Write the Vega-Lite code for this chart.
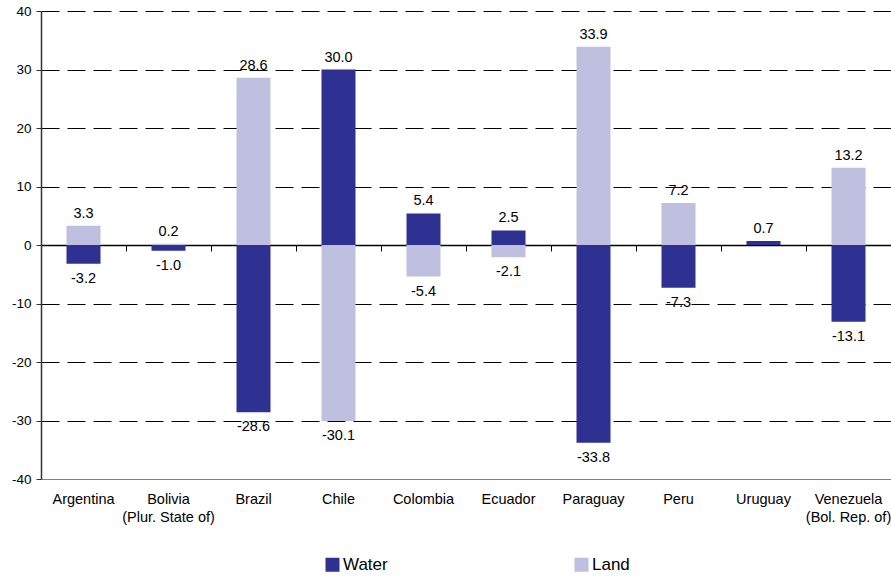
{
  "$schema": "https://vega.github.io/schema/vega-lite/v6.json",
  "width": 850,
  "height": 468,
  "autosize": {"type": "none"},
  "padding": {"left": 41, "top": 11, "right": 0, "bottom": 97},
  "config": {
    "view": {"stroke": null},
    "font": "Liberation Sans",
    "locale": {"number": {"decimal": ".", "thousands": ",", "grouping": [3], "currency": ["$", ""], "minus": "-"}}
  },
  "data": {
    "values": [
      {"country": "Argentina", "type": "Water", "value": -3.2},
      {"country": "Argentina", "type": "Land", "value": 3.3},
      {"country": "Bolivia (Plur. State of)", "type": "Water", "value": -1.0},
      {"country": "Bolivia (Plur. State of)", "type": "Land", "value": 0.2},
      {"country": "Brazil", "type": "Water", "value": -28.6},
      {"country": "Brazil", "type": "Land", "value": 28.6},
      {"country": "Chile", "type": "Water", "value": 30.0},
      {"country": "Chile", "type": "Land", "value": -30.1},
      {"country": "Colombia", "type": "Water", "value": 5.4},
      {"country": "Colombia", "type": "Land", "value": -5.4},
      {"country": "Ecuador", "type": "Water", "value": 2.5},
      {"country": "Ecuador", "type": "Land", "value": -2.1},
      {"country": "Paraguay", "type": "Water", "value": -33.8},
      {"country": "Paraguay", "type": "Land", "value": 33.9},
      {"country": "Peru", "type": "Water", "value": -7.3},
      {"country": "Peru", "type": "Land", "value": 7.2},
      {"country": "Uruguay", "type": "Water", "value": 0.7},
      {"country": "Venezuela (Bol. Rep. of)", "type": "Water", "value": -13.1},
      {"country": "Venezuela (Bol. Rep. of)", "type": "Land", "value": 13.2}
    ]
  },
  "encoding": {
    "y": {
      "field": "value",
      "type": "quantitative",
      "stack": "zero",
      "scale": {"domain": [-40, 40], "nice": false},
      "axis": {
        "title": null,
        "values": [-40, -30, -20, -10, 0, 10, 20, 30, 40],
        "format": "d",
        "labelFontSize": 13.5,
        "labelColor": "#000000",
        "labelPadding": 5,
        "domain": true,
        "domainColor": "#333333",
        "domainWidth": 1.5,
        "tickColor": "#333333",
        "tickSize": 5,
        "grid": true,
        "gridColor": "#000000",
        "gridDash": [18, 8],
        "gridWidth": 1,
        "gridOpacity": {"condition": {"test": "datum.value === -40 || datum.value === 0", "value": 0}, "value": 1}
      }
    }
  },
  "layer": [
    {
      "mark": {"type": "bar"},
      "encoding": {
        "x": {
          "field": "country",
          "type": "nominal",
          "sort": null,
          "scale": {"paddingInner": 0.6, "paddingOuter": 0.3},
          "axis": {
            "title": null,
            "orient": "bottom",
            "labelAngle": 0,
            "labelFontSize": 14.5,
            "labelColor": "#000000",
            "labelPadding": 13,
            "labelLineHeight": 18,
            "labelExpr": "indexof(datum.label, ' (') > 0 ? [substring(datum.label, 0, indexof(datum.label, ' (')), substring(datum.label, indexof(datum.label, ' (') + 1)] : datum.label",
            "ticks": false,
            "domain": true,
            "domainColor": "#808080",
            "grid": false
          }
        },
        "color": {
          "field": "type",
          "type": "nominal",
          "scale": {"domain": ["Water", "Land"], "range": ["#2e3192", "#bfbfdf"]},
          "legend": {
            "title": null,
            "orient": "none",
            "legendX": 283,
            "legendY": 545,
            "direction": "horizontal",
            "columns": 2,
            "columnPadding": 185,
            "symbolType": "square",
            "symbolSize": 196,
            "symbolStrokeWidth": 0,
            "labelFontSize": 17,
            "labelColor": "#000000",
            "labelOffset": 2,
            "padding": 0
          }
        }
      }
    },
    {
      "transform": [{"filter": "datum.value > 0"}],
      "mark": {"type": "text", "baseline": "bottom", "dy": -5, "fontSize": 14.5, "color": "#000000"},
      "encoding": {
        "x": {
          "field": "country",
          "type": "nominal",
          "sort": null,
          "axis": {
            "title": null,
            "orient": "bottom",
            "offset": -234,
            "labels": false,
            "ticks": true,
            "tickSize": 6,
            "tickColor": "#000000",
            "bandPosition": -0.75,
            "domain": true,
            "domainColor": "#000000",
            "domainWidth": 1.5,
            "grid": false
          }
        },
        "text": {"field": "value", "type": "quantitative", "format": ".1f"}
      }
    },
    {
      "transform": [{"filter": "datum.value < 0"}],
      "mark": {"type": "text", "baseline": "top", "dy": 8, "fontSize": 14.5, "color": "#000000"},
      "encoding": {
        "x": {"field": "country", "type": "nominal", "sort": null, "axis": null},
        "text": {"field": "value", "type": "quantitative", "format": ".1f"}
      }
    }
  ],
  "resolve": {"axis": {"x": "independent"}}
}
